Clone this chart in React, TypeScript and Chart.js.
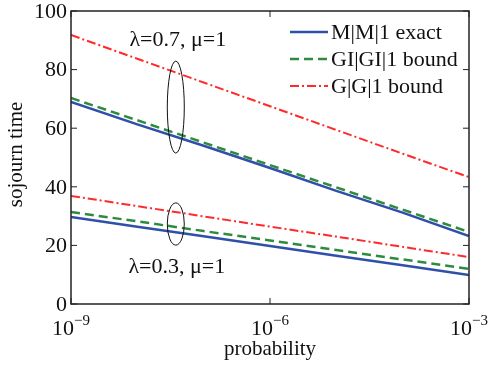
import React, { useEffect, useRef } from "react";
import { Chart, registerables } from "chart.js";

Chart.register(...registerables);

const probability = [1e-9, 1e-8, 1e-7, 1e-6, 1e-5, 1e-4, 1e-3];
const mm1High = [69.0, 61.3, 54.0, 46.4, 38.6, 31.2, 23.2];
const giHigh = [70.3, 62.7, 55.1, 47.4, 39.8, 32.2, 24.6];
const ggHigh = [91.8, 83.7, 75.6, 67.5, 59.4, 51.3, 43.3];
const mm1Low = [29.7, 26.4, 23.1, 19.8, 16.5, 13.2, 9.9];
const giLow = [31.4, 28.2, 24.9, 21.7, 18.4, 15.2, 12.0];
const ggLow = [36.9, 33.4, 29.9, 26.4, 23.0, 19.5, 16.0];

const xTickExps = [-9, -6, -3];
const yTicks = [0, 20, 40, 60, 80, 100];
const legendLabels = ["M|M|1 exact", "GI|GI|1 bound", "G|G|1 bound"];
const groupLabels = ["λ=0.7, μ=1", "λ=0.3, μ=1"];
const ellipseX = 3.8e-8;
const ellipseHigh = { cy: 67.2, ry: 15.7 };
const ellipseLow = { cy: 27.3, ry: 7.2 };

const BLUE = "#2f4fa8";
const GREEN = "#2e8b3e";
const RED = "#ff2a2a";
const FONT = "'Liberation Serif', 'Times New Roman', Times, serif";

const toPts = (ys: number[]) => probability.map((x, i) => ({ x, y: ys[i] }));

const styles = [
  { color: BLUE, dash: [] as number[], width: 2.5 },
  { color: GREEN, dash: [9, 5], width: 2.5 },
  { color: RED, dash: [9, 3, 2, 3], width: 2 },
];

export default function App() {
  const ref = useRef<HTMLCanvasElement>(null);
  useEffect(() => {
    const overlay = {
      id: "overlay",
      afterDraw(chart: any) {
        const ctx = chart.ctx as CanvasRenderingContext2D;
        const { left, right, top, bottom } = chart.chartArea;
        const xs = chart.scales.x;
        const ys = chart.scales.y;
        ctx.save();
        ctx.strokeStyle = "#222";
        ctx.lineWidth = 1.5;
        ctx.setLineDash([]);
        ctx.strokeRect(left, top, right - left, bottom - top);
        ctx.lineWidth = 1;
        const tl = 6;
        ctx.beginPath();
        yTicks.forEach((v) => {
          const y = ys.getPixelForValue(v);
          ctx.moveTo(left, y); ctx.lineTo(left + tl, y);
          ctx.moveTo(right, y); ctx.lineTo(right - tl, y);
        });
        xTickExps.forEach((e) => {
          const x = xs.getPixelForValue(Math.pow(10, e));
          ctx.moveTo(x, bottom); ctx.lineTo(x, bottom - tl);
          ctx.moveTo(x, top); ctx.lineTo(x, top + tl);
        });
        ctx.stroke();
        ctx.fillStyle = "#111";
        ctx.font = `22px ${FONT}`;
        ctx.textAlign = "right";
        ctx.textBaseline = "middle";
        yTicks.forEach((v) => {
          ctx.fillText(String(v), left - 4, ys.getPixelForValue(v) + 1);
        });
        xTickExps.forEach((e) => {
          const x = xs.getPixelForValue(Math.pow(10, e));
          ctx.font = `22px ${FONT}`;
          const base = "10";
          const exp = "\u2212" + String(-e);
          const wb = ctx.measureText(base).width;
          ctx.font = `15px ${FONT}`;
          const we = ctx.measureText(exp).width;
          const start = x - (wb + we) / 2;
          ctx.textAlign = "left";
          ctx.textBaseline = "alphabetic";
          ctx.font = `22px ${FONT}`;
          ctx.fillText(base, start, 335);
          ctx.font = `15px ${FONT}`;
          ctx.fillText(exp, start + wb, 325);
        });
        ctx.font = `21px ${FONT}`;
        ctx.textAlign = "center";
        ctx.textBaseline = "middle";
        ctx.fillText("probability", (left + right) / 2, 349);
        ctx.save();
        ctx.translate(16, (top + bottom) / 2 - 3);
        ctx.rotate(-Math.PI / 2);
        ctx.fillText("sojourn time", 0, 0);
        ctx.restore();
        ctx.font = `22px ${FONT}`;
        ctx.textBaseline = "alphabetic";
        const ex = xs.getPixelForValue(ellipseX);
        ctx.fillText(groupLabels[0], ex + 2, 46);
        ctx.fillText(groupLabels[1], ex + 1, 273);
        ctx.strokeStyle = "#111";
        ctx.lineWidth = 1;
        [ellipseHigh, ellipseLow].forEach((el) => {
          const cy = ys.getPixelForValue(el.cy);
          const ry = Math.abs(ys.getPixelForValue(el.cy + el.ry) - cy);
          ctx.beginPath();
          ctx.ellipse(ex, cy, 8.5, ry, 0, 0, Math.PI * 2);
          ctx.stroke();
        });
        ctx.font = `22px ${FONT}`;
        ctx.textAlign = "left";
        ctx.textBaseline = "middle";
        const rows = [32, 59, 86];
        legendLabels.forEach((lab, i) => {
          const s = styles[i];
          ctx.strokeStyle = s.color;
          ctx.lineWidth = s.width;
          ctx.setLineDash(s.dash);
          ctx.beginPath();
          ctx.moveTo(290, rows[i]);
          ctx.lineTo(328, rows[i]);
          ctx.stroke();
          ctx.setLineDash([]);
          ctx.fillStyle = "#111";
          ctx.fillText(lab, 331, rows[i] + 1);
        });
        ctx.restore();
      },
    };

    const mk = (label: string, ys: number[], i: number) => ({
      label,
      data: toPts(ys),
      borderColor: styles[i].color,
      backgroundColor: styles[i].color,
      borderWidth: styles[i].width,
      borderDash: styles[i].dash,
      pointRadius: 0,
      tension: 0,
      fill: false,
    });

    const chart = new Chart(ref.current!, {
      type: "line",
      data: {
        datasets: [
          mk(legendLabels[0], mm1High, 0),
          mk(legendLabels[1], giHigh, 1),
          mk(legendLabels[2], ggHigh, 2),
          mk(legendLabels[0], mm1Low, 0),
          mk(legendLabels[1], giLow, 1),
          mk(legendLabels[2], ggLow, 2),
        ],
      },
      options: {
        animation: false,
        responsive: false,
        devicePixelRatio: 1,
        layout: { padding: { left: 71, top: 11, right: 20, bottom: 64 } },
        plugins: { legend: { display: false }, tooltip: { enabled: false } },
        scales: {
          x: { type: "logarithmic", min: 1e-9, max: 1e-3, display: false },
          y: { type: "linear", min: 0, max: 100, display: false },
        },
      },
      plugins: [overlay],
    });
    let alive = true;
    const fonts = (document as any).fonts;
    if (fonts && fonts.load) {
      Promise.all([
        fonts.load("22px 'Liberation Serif'"),
        fonts.load("15px 'Liberation Serif'"),
      ]).then(() => { if (alive) chart.update(); }).catch(() => {});
    }
    return () => { alive = false; chart.destroy(); };
  }, []);

  return (
    <div style={{ position: "fixed", left: 0, top: 0, width: 489, height: 368, background: "#fff" }}>
      <canvas ref={ref} width={489} height={368} style={{ display: "block" }} />
    </div>
  );
}
